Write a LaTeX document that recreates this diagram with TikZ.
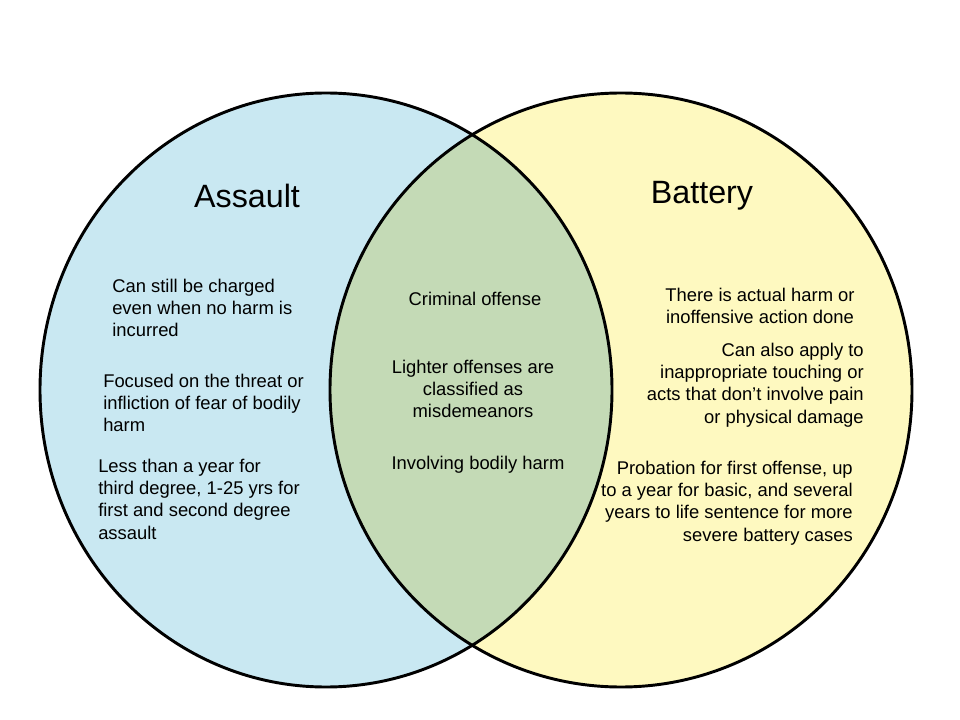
\documentclass[tikz,border=0pt]{standalone}
\usepackage{fontspec}
\setmainfont{Liberation Sans}
\definecolor{assaultblue}{HTML}{C9E8F2}
\definecolor{batteryyellow}{HTML}{FEF9C0}
\definecolor{overlapgreen}{HTML}{C4DAB6}
\tikzset{
  body/.style={font=\fontsize{13.8}{16.6}\selectfont, inner sep=0pt},
  heading/.style={font=\fontsize{24.2}{28}\selectfont, inner sep=0pt}
}
\begin{document}
\begin{tikzpicture}[x=0.75pt, y=-0.75pt]
	\useasboundingbox (0,0) rectangle (960,720);
	%Kreise
	\fill[assaultblue] (326,390) ellipse (286 and 297);
	\fill[batteryyellow] (621,390) ellipse (291 and 297);
	\begin{scope}
		\clip (326,390) ellipse (286 and 297);
		\fill[overlapgreen] (621,390) ellipse (291 and 297);
	\end{scope}
	\draw[line width=2.2pt] (326,390) ellipse (286 and 297);
	\draw[line width=2.2pt] (621,390) ellipse (291 and 297);
	
	%Titel
	\node[heading] (assault) at (247,196) {Assault};
	\node[heading] (battery) at (702,196) {Battery};
	
	%Assault
	\node[body, anchor=north west, align=left] (a1) at (112,279) {Can still be charged\\even when no harm is\\incurred};
	\node[body, anchor=north west, align=left] (a2) at (103,374) {Focused on the threat or\\infliction of fear of bodily\\harm};
	\node[body, anchor=north west, align=left] (a3) at (98,459) {Less than a year for\\third degree, 1-25 yrs for\\first and second degree\\assault};
	
	%Beide
	\node[body, align=center] (b1) at (475,299) {Criminal offense};
	\node[body, align=center] (b2) at (473,389) {Lighter offenses are\\classified as\\misdemeanors};
	\node[body, align=center] (b3) at (478,465) {Involving bodily harm};
	
	%Battery
	\node[body, align=center] (c1) at (760,306) {There is actual harm or\\inoffensive action done};
	\node[body, anchor=north east, align=right] (c2) at (864,343) {Can also apply to\\inappropriate touching or\\acts that don't involve pain\\or physical damage};
	\node[body, anchor=north east, align=right] (c3) at (853,461) {Probation for first offense, up\\to a year for basic, and several\\years to life sentence for more\\severe battery cases};
\end{tikzpicture}
\end{document}
